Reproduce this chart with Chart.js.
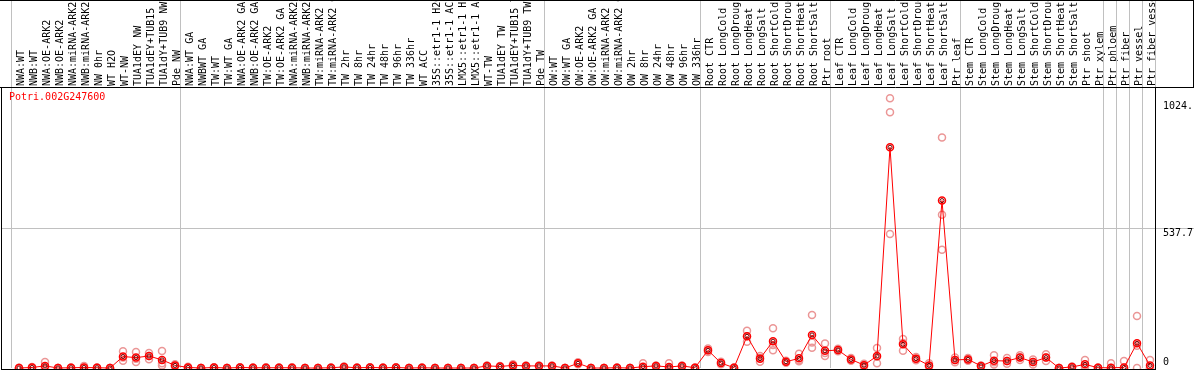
<!DOCTYPE html>
<html>
<head>
<meta charset="utf-8">
<title>Potri.002G247600</title>
<script src="https://cdn.jsdelivr.net/npm/chart.js@4.4.0/dist/chart.umd.min.js"></script>
<style>
  html, body { margin: 0; padding: 0; background: #fff; }
  canvas { display: block; }
</style>
</head>
<body>
<canvas id="expressionChart" width="1194" height="370"></canvas>
<script>
// Gene shown in the top-left corner
const geneId = 'Potri.002G247600';

// Sample names (x categories), left to right
const categories = [
    'NWA:WT', 'NWB:WT', 'NWA:OE-ARK2', 'NWB:OE-ARK2', 'NWA:miRNA-ARK2', 'NWB:miRNA-ARK2',
    'NW 0hr', 'WT H2O', 'WT-NW', 'TUA1dEY NW', 'TUA1dEY+TUB15 NW', 'TUA1dY+TUB9 NW', 'Pde NW',
    'NWA:WT GA', 'NWBWT GA', 'TW:WT', 'TW:WT GA', 'NWA:OE-ARK2 GA', 'NWB:OE-ARK2 GA',
    'TW:OE-ARK2', 'TW:OE-ARK2 GA', 'NWA:miRNA-ARK2 GA', 'NWB:miRNA-ARK2 GA', 'TW:miRNA-ARK2',
    'TW:miRNA-ARK2 GA', 'TW 2hr', 'TW 8hr', 'TW 24hr', 'TW 48hr', 'TW 96hr', 'TW 336hr',
    'WT ACC', '35S::etr1-1 H2O', '35S::etr1-1 ACC', 'LMX5::etr1-1 H2O', 'LMX5::etr1-1 ACC',
    'WT-TW', 'TUA1dEY TW', 'TUA1dEY+TUB15 TW', 'TUA1dY+TUB9 TW', 'Pde TW',
    'OW:WT', 'OW:WT GA', 'OW:OE-ARK2', 'OW:OE-ARK2 GA', 'OW:miRNA-ARK2', 'OW:miRNA-ARK2 GA',
    'OW 2hr', 'OW 8hr', 'OW 24hr', 'OW 48hr', 'OW 96hr', 'OW 336hr',
    'Root CTR', 'Root LongCold', 'Root LongDrought', 'Root LongHeat', 'Root LongSalt',
    'Root ShortCold', 'Root ShortDrought', 'Root ShortHeat', 'Root ShortSalt', 'Ptr root',
    'Leaf CTR', 'Leaf LongCold', 'Leaf LongDrought', 'Leaf LongHeat', 'Leaf LongSalt',
    'Leaf ShortCold', 'Leaf ShortDrought', 'Leaf ShortHeat', 'Leaf ShortSalt', 'Ptr leaf',
    'Stem CTR', 'Stem LongCold', 'Stem LongDrought', 'Stem LongHeat', 'Stem LongSalt',
    'Stem ShortCold', 'Stem ShortDrought', 'Stem ShortHeat', 'Stem ShortSalt', 'Ptr shoot',
    'Ptr xylem', 'Ptr phloem', 'Ptr fiber', 'Ptr vessel', 'Ptr fiber vessel'
];

// Mean expression per sample
const meanValues = [
    0, 2, 8, 0, 1, 2, 1, 0, 44, 40,
    46, 31, 10, 2, 0, 2, 0, 2, 1, 1,
    1, 1, 0, 0, 1, 4, 1, 2, 1, 2,
    0, 1, 0, 0, 0, 0, 8, 6, 10, 8,
    8, 8, 0, 18, 0, 0, 1, 0, 5, 8,
    4, 8, 1, 68, 19, 1, 122, 36, 103, 24,
    37, 127, 66, 69, 33, 11, 46, 848, 91, 36,
    10, 643, 31, 33, 8, 28, 27, 40, 23, 40,
    0, 4, 14, 1, 1, 2, 95, 10
];

// Individual replicates (light circles)
const rep1 = [
    1, 4, 23, 0, 2, 8, 2, 0, 64, 61,
    58, 65, 14, 5, 0, 3, 0, 3, 2, 3,
    2, 3, 0, 0, 2, 6, 2, 3, 2, 3,
    0, 2, 0, 0, 0, 0, 10, 8, 14, 10,
    10, 10, 0, 22, 0, 0, 2, 0, 18, 10,
    18, 10, 2, 75, 24, 2, 143, 46, 153, 28,
    55, 204, 94, 74, 38, 16, 77, 1036, 111, 42,
    18, 885, 40, 38, 10, 49, 38, 49, 33, 53,
    0, 6, 31, 2, 18, 27, 200, 31
];
const rep2 = [
    0, 2, 3, 0, 1, 0, 1, 0, 40, 36,
    46, 18, 10, 1, 0, 2, 0, 2, 1, 1,
    1, 1, 0, 0, 1, 4, 1, 2, 1, 2,
    0, 1, 0, 0, 0, 0, 8, 6, 12, 8,
    8, 8, 0, 18, 0, 0, 1, 0, 0, 8,
    0, 8, 1, 68, 19, 1, 122, 38, 88, 24,
    30, 98, 58, 69, 33, 11, 43, 982, 96, 36,
    8, 589, 31, 33, 8, 22, 27, 40, 23, 40,
    0, 4, 8, 1, 0, 0, 85, 0
];
const rep3 = [
    0, 0, 0, 0, 0, 0, 0, 0, 28, 23,
    34, 10, 6, 0, 0, 1, 0, 1, 0, 0,
    0, 0, 0, 0, 0, 2, 0, 1, 0, 1,
    0, 0, 0, 0, 0, 0, 6, 4, 4, 6,
    6, 6, 0, 14, 0, 0, 0, 0, 0, 6,
    0, 6, 0, 61, 14, 0, 101, 24, 68, 20,
    26, 78, 46, 64, 28, 6, 18, 515, 66, 30,
    4, 454, 22, 28, 6, 13, 16, 31, 13, 27,
    0, 2, 3, 0, 0, 0, 0, 0
];

// First sample index of each group (vertical separators)
const groupStarts = [0, 13, 41, 53, 63, 73, 84, 85, 86, 87, 88];

// Right-hand axis
const yTickValues = [0, 537.7, 1024];
const yTickLabels = ['0', '537.7', '1024.'];
const yMax = 1075.4;

const FONT_FAMILY = '"DejaVu Sans Mono", monospace';
const FONT = '10px ' + FONT_FAMILY;
const GRID_COLOR = '#c0c0c0';

// x range so that sample i sits at 19 + 13*i px inside a 2..1155 plot
const X_MIN = -17 / 13;
const X_MAX = 1136 / 13;

const toPoints = (arr) => arr.map((v, i) => ({ x: i, y: v }));

const replicatePoints = [rep1, rep2, rep3].flatMap(toPoints);

/**
 * Separator lines, frame, right-hand tick labels and gene title
 */
const framePlugin = {
    id: 'frame',
    beforeDatasetsDraw(chart) {
        const { ctx, chartArea: a, scales: { x, y } } = chart;
        ctx.save();
        ctx.strokeStyle = GRID_COLOR;
        ctx.lineWidth = 1;
        ctx.beginPath();
        groupStarts.forEach((b) => {
            const px = Math.round(x.getPixelForValue(b - 0.62)) + 0.5;
            ctx.moveTo(px, 0);
            ctx.lineTo(px, a.bottom);
        });
        const gy = Math.round(y.getPixelForValue(yTickValues[1])) + 0.5;
        ctx.moveTo(a.left, gy);
        ctx.lineTo(chart.width, gy);
        ctx.stroke();
        ctx.restore();
    },
    afterDraw(chart) {
        const { ctx, chartArea: a, scales: { y } } = chart;
        ctx.save();

        // black frame
        ctx.strokeStyle = '#000';
        ctx.lineWidth = 1;
        ctx.beginPath();
        ctx.moveTo(0, 0.5);
        ctx.lineTo(chart.width, 0.5);
        ctx.moveTo(0, a.top - 0.5);
        ctx.lineTo(chart.width, a.top - 0.5);
        ctx.moveTo(chart.width - 0.5, 0);
        ctx.lineTo(chart.width - 0.5, a.top);
        ctx.moveTo(a.left - 0.5, a.top);
        ctx.lineTo(a.left - 0.5, chart.height);
        ctx.moveTo(a.right + 0.5, a.top);
        ctx.lineTo(a.right + 0.5, chart.height);
        ctx.moveTo(a.left, a.bottom + 1.5);
        ctx.lineTo(a.right, a.bottom + 1.5);
        ctx.stroke();

        // right-hand tick labels, written just under their value
        ctx.font = FONT;
        ctx.fillStyle = '#000';
        ctx.textAlign = 'left';
        ctx.textBaseline = 'top';
        yTickValues.forEach((v, i) => {
            const py = Math.min(y.getPixelForValue(v), a.bottom - 11);
            ctx.fillText(yTickLabels[i], a.right + 8, py);
        });

        // gene name
        ctx.fillStyle = 'red';
        ctx.textBaseline = 'middle';
        ctx.fillText(geneId, 9, a.top + 9);
        ctx.restore();
    }
};

new Chart(document.getElementById('expressionChart'), {
    type: 'line',
    data: {
        datasets: [
            {
                label: geneId,
                data: toPoints(meanValues),
                borderColor: 'red',
                borderWidth: 1,
                pointRadius: 3.5,
                pointBorderColor: 'red',
                pointBorderWidth: 1.5,
                pointBackgroundColor: 'rgba(0,0,0,0)',
                tension: 0,
                clip: false,
                order: 1
            },
            {
                label: 'mean ring',
                data: toPoints(meanValues),
                showLine: false,
                pointRadius: 2,
                pointBorderColor: '#700000',
                pointBorderWidth: 1,
                pointBackgroundColor: 'rgba(0,0,0,0)',
                clip: false,
                order: 0
            },
            {
                label: 'replicates',
                data: replicatePoints,
                showLine: false,
                pointRadius: 3.5,
                pointBorderColor: '#eb9696',
                pointBorderWidth: 1.5,
                pointBackgroundColor: 'rgba(0,0,0,0)',
                clip: false,
                order: 2
            }
        ]
    },
    options: {
        responsive: false,
        animation: false,
        events: [],
        layout: {
            autoPadding: false,
            padding: { left: 2, right: 39, top: 0, bottom: 2 }
        },
        plugins: {
            legend: { display: false },
            tooltip: { enabled: false }
        },
        scales: {
            x: {
                type: 'linear',
                position: 'top',
                min: X_MIN,
                max: X_MAX,
                afterBuildTicks: (scale) => {
                    scale.ticks = categories.map((_, i) => ({ value: i }));
                },
                afterFit: (scale) => {
                    scale.height = 88;
                    scale.paddingLeft = 0;
                    scale.paddingRight = 0;
                },
                grid: { display: false, drawTicks: false },
                border: { display: false },
                ticks: {
                    autoSkip: false,
                    minRotation: 90,
                    maxRotation: 90,
                    padding: 2,
                    labelOffset: 14,
                    color: '#000',
                    font: { family: FONT_FAMILY, size: 10 },
                    callback: (value, index) => categories[index]
                }
            },
            y: {
                type: 'linear',
                display: false,
                min: 0,
                max: yMax
            }
        }
    },
    plugins: [framePlugin]
});
</script>
</body>
</html>
